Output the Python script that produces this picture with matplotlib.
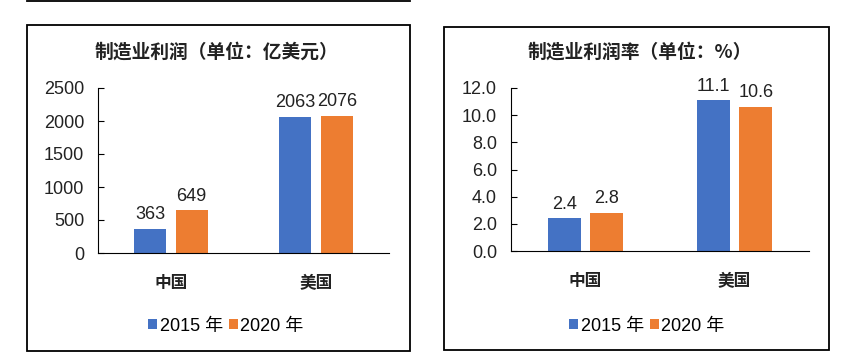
import matplotlib
matplotlib.use('Agg')
import matplotlib.pyplot as plt
import numpy as np
from matplotlib.patches import Rectangle
from matplotlib.lines import Line2D

# Data
categories = ['中国', '美国']
series_names = ['2015 年', '2020 年']
profit_2015 = [363, 2063]
profit_2020 = [649, 2076]
rate_2015 = [2.4, 11.1]
rate_2020 = [2.8, 10.6]

colors = ['#4472C4', '#ED7D31']
fonts = ['Liberation Sans', 'Noto Sans CJK SC']
plt.rcParams['font.family'] = fonts

W, H = 854, 363
fig = plt.figure(figsize=(W / 100, H / 100), dpi=100)


def px_axes(x0, y0, x1, y1):
    # pixel box (top-left origin) -> figure axes
    return fig.add_axes([x0 / W, (H - y1) / H, (x1 - x0) / W, (y1 - y0) / H])


def draw_box(x0, y0, x1, y1):
    fig.patches.append(Rectangle((x0 / W, (H - y1) / H), (x1 - x0) / W, (y1 - y0) / H,
                                 transform=fig.transFigure, fill=False,
                                 edgecolor='black', linewidth=1.3))


def make_panel(ax, v1, v2, ylim, step, fmt, title, title_x, box):
    x = np.arange(len(categories))
    off = 0.143
    width = 0.22
    b1 = ax.bar(x - off, v1, width, color=colors[0], label=series_names[0])
    b2 = ax.bar(x + off, v2, width, color=colors[1], label=series_names[1])
    ax.bar_label(b1, labels=[fmt.format(v) for v in v1], padding=4, fontsize=13, color='#222222')
    ax.bar_label(b2, labels=[fmt.format(v) for v in v2], padding=4, fontsize=13, color='#222222')
    ax.set_xlim(-0.5, 1.5)
    ax.set_ylim(0, ylim)
    ticks = np.arange(0, ylim + step / 2, step)
    ax.set_yticks(ticks)
    ax.set_yticklabels([fmt.format(t) for t in ticks], fontsize=13, color='#222222')
    ax.set_xticks(x)
    ax.set_xticklabels(categories, fontsize=12, fontweight='bold', family='Noto Sans CJK SC',
                       color='#222222')
    ax.tick_params(axis='x', length=0, pad=15)
    ax.tick_params(axis='y', direction='in', length=4, pad=10, width=0.8)
    ax.spines['top'].set_visible(False)
    ax.spines['right'].set_visible(False)
    ax.spines['left'].set_linewidth(0.8)
    ax.spines['bottom'].set_linewidth(0.8)
    fig.text(title_x / W, 1 - 52 / H, title, ha='center', va='center', fontsize=13.5,
             fontweight='bold', family='Noto Sans CJK SC', color='#222222')
    draw_box(*box)
    return b1, b2


ax1 = px_axes(98, 88, 389, 253)
h1 = make_panel(ax1, profit_2015, profit_2020, 2500, 500, '{:.0f}',
                '制造业利润（单位：亿美元）', 216, (27, 25, 410, 351))
ax1.legend(h1, series_names, loc='center', bbox_to_anchor=(226 / W, 1 - 326 / H),
           bbox_transform=fig.transFigure, ncol=2, frameon=False, fontsize=13,
           handlelength=0.5, handleheight=0.5, handletextpad=0.15, columnspacing=0.3)

ax2 = px_axes(511, 88, 809, 251)
h2 = make_panel(ax2, rate_2015, rate_2020, 12, 2, '{:.1f}',
                '制造业利润率（单位：%）', 640, (444, 27, 829, 350))
ax2.legend(h2, series_names, loc='center', bbox_to_anchor=(647 / W, 1 - 326 / H),
           bbox_transform=fig.transFigure, ncol=2, frameon=False, fontsize=13,
           handlelength=0.5, handleheight=0.5, handletextpad=0.15, columnspacing=0.3)

# remnant of the box above
fig.add_artist(Line2D([27 / W, 410 / W], [1 - 0.5 / H, 1 - 0.5 / H],
                      transform=fig.transFigure, color='black', linewidth=1.3))

fig.savefig('out.png', dpi=100)
